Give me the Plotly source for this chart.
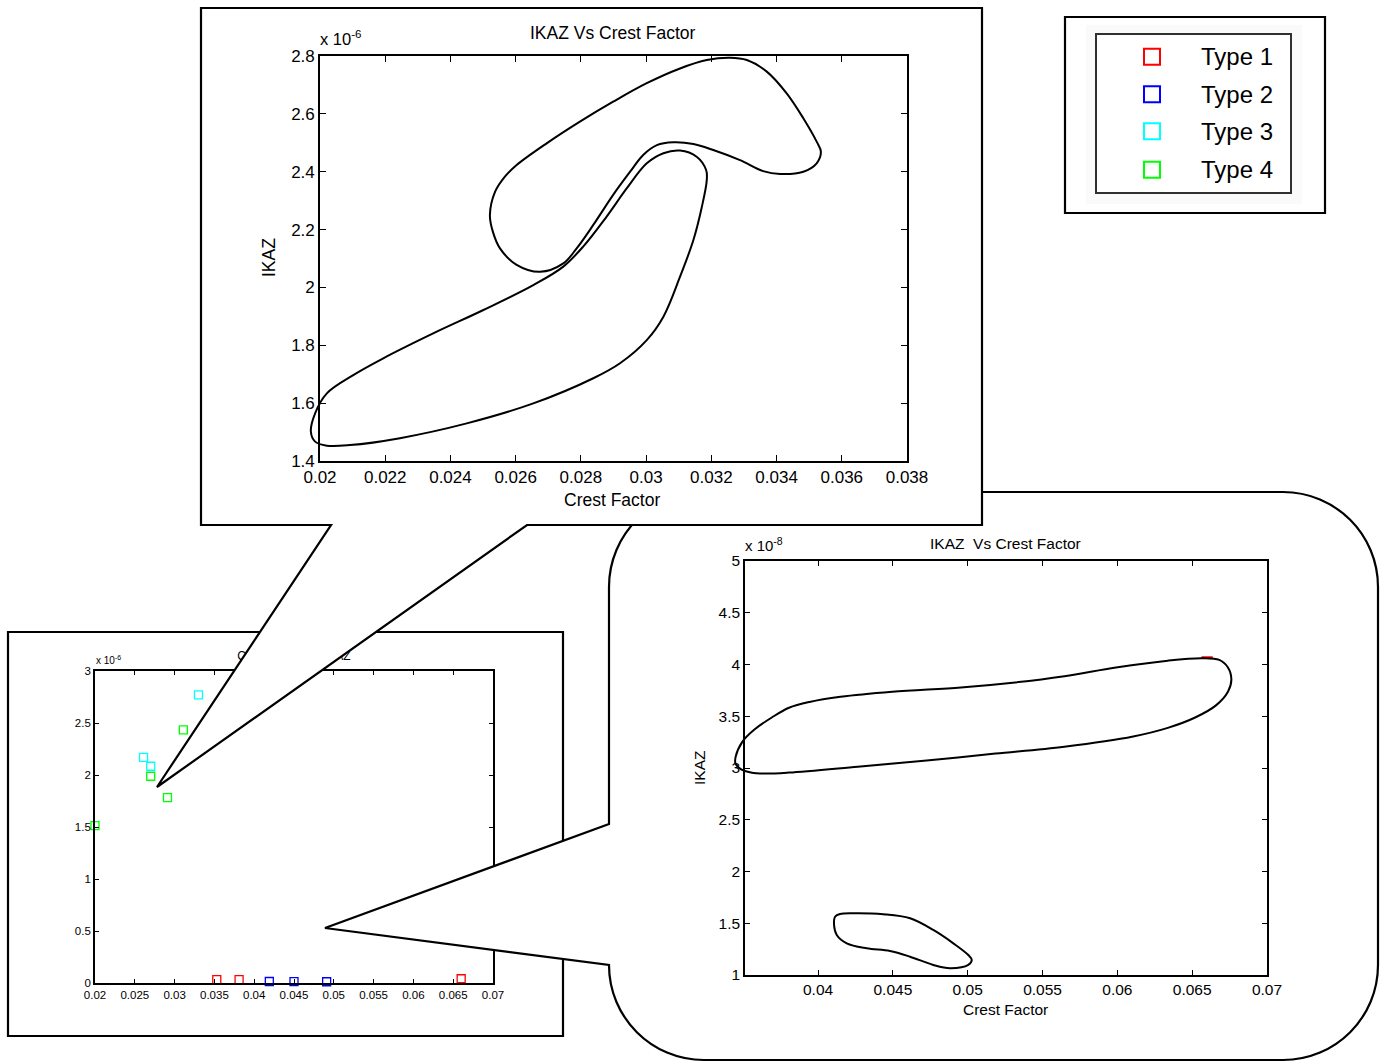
import plotly.graph_objects as go

W, H = 1383, 1062
FONT = "Liberation Sans, Arial, Helvetica, sans-serif"

# ---------------- measured points (Crest Factor, IKAZ) ----------------
type1_cf = [0.0353, 0.0381, 0.0660]
type1_ikaz = [3.15e-8, 3.30e-8, 4.07e-8]
type2_cf = [0.0419, 0.0450, 0.0491]
type2_ikaz = [1.45e-8, 1.40e-8, 1.18e-8]
type3_cf = [0.0261, 0.0270, 0.0330]
type3_ikaz = [2.170e-6, 2.084e-6, 2.770e-6]
type4_cf = [0.0200, 0.0270, 0.0291, 0.0311]
type4_ikaz = [1.513e-6, 1.988e-6, 1.782e-6, 2.433e-6]

# ---------------- class boundaries ----------------
bound3_cf = [0.02521, 0.02537, 0.02567, 0.02603, 0.02695, 0.02797, 0.02899, 0.03002,
             0.03104, 0.03186, 0.03257, 0.03309, 0.03370, 0.03431, 0.03482, 0.03523,
             0.03536, 0.03523, 0.03482, 0.03411, 0.03359, 0.03288, 0.03206, 0.03145,
             0.03083, 0.03033, 0.02991, 0.02951, 0.02899, 0.02838, 0.02787, 0.02746,
             0.02675, 0.02603, 0.02552, 0.02530]
bound3_ikaz = [2.250e-6, 2.331e-6, 2.383e-6, 2.423e-6, 2.498e-6, 2.573e-6, 2.642e-6, 2.706e-6,
               2.757e-6, 2.786e-6, 2.794e-6, 2.786e-6, 2.746e-6, 2.671e-6, 2.585e-6, 2.504e-6,
               2.469e-6, 2.429e-6, 2.400e-6, 2.392e-6, 2.402e-6, 2.440e-6, 2.475e-6, 2.496e-6,
               2.502e-6, 2.492e-6, 2.458e-6, 2.400e-6, 2.320e-6, 2.216e-6, 2.135e-6, 2.083e-6,
               2.054e-6, 2.078e-6, 2.135e-6, 2.193e-6]

bound4_cf = [0.01972, 0.01985, 0.02021, 0.02102, 0.02194, 0.02347, 0.02501, 0.02654,
             0.02746, 0.02807, 0.02879, 0.02941, 0.03002, 0.03053, 0.03104, 0.03155,
             0.03184, 0.03186, 0.03171, 0.03145, 0.03104, 0.03053, 0.03002, 0.02920,
             0.02838, 0.02654, 0.02450, 0.02245, 0.02092, 0.02021, 0.01985]
bound4_ikaz = [1.501e-6, 1.565e-6, 1.634e-6, 1.697e-6, 1.755e-6, 1.841e-6, 1.922e-6, 2.008e-6,
               2.072e-6, 2.141e-6, 2.245e-6, 2.343e-6, 2.429e-6, 2.464e-6, 2.473e-6, 2.452e-6,
               2.406e-6, 2.371e-6, 2.279e-6, 2.164e-6, 2.037e-6, 1.899e-6, 1.818e-6, 1.738e-6,
               1.686e-6, 1.599e-6, 1.530e-6, 1.479e-6, 1.455e-6, 1.453e-6, 1.467e-6]

bound1_cf = [0.03449, 0.03495, 0.03575, 0.03691, 0.03806, 0.03943, 0.04150, 0.04496,
             0.04955, 0.05301, 0.05646, 0.05991, 0.06337, 0.06566, 0.06681, 0.06739,
             0.06762, 0.06739, 0.06659, 0.06520, 0.06337, 0.06106, 0.05646, 0.05186,
             0.04726, 0.04265, 0.03806, 0.03645, 0.03552, 0.03484, 0.03449]
bound1_ikaz = [3.105e-8, 3.255e-8, 3.372e-8, 3.488e-8, 3.582e-8, 3.638e-8, 3.688e-8, 3.737e-8,
               3.778e-8, 3.824e-8, 3.887e-8, 3.971e-8, 4.037e-8, 4.060e-8, 4.044e-8, 3.971e-8,
               3.854e-8, 3.737e-8, 3.605e-8, 3.488e-8, 3.388e-8, 3.305e-8, 3.206e-8, 3.139e-8,
               3.073e-8, 3.013e-8, 2.956e-8, 2.946e-8, 2.956e-8, 2.989e-8, 3.039e-8]

bound2_cf = [0.04114, 0.04147, 0.04236, 0.04436, 0.04615, 0.04770, 0.04904, 0.05004,
             0.05027, 0.05004, 0.04882, 0.04770, 0.04615, 0.04481, 0.04325, 0.04192,
             0.04125, 0.04107]
bound2_ikaz = [1.563e-8, 1.589e-8, 1.596e-8, 1.587e-8, 1.548e-8, 1.435e-8, 1.306e-8, 1.193e-8,
               1.145e-8, 1.097e-8, 1.065e-8, 1.097e-8, 1.177e-8, 1.232e-8, 1.258e-8, 1.306e-8,
               1.387e-8, 1.483e-8]

# ---------------- tick labels ----------------
main_cf_ticks = [0.02, 0.025, 0.03, 0.035, 0.04, 0.045, 0.05, 0.055, 0.06, 0.065, 0.07]
main_cf_labels = ["0.02", "0.025", "0.03", "0.035", "0.04", "0.045", "0.05", "0.055", "0.06", "0.065", "0.07"]
main_ikaz_ticks = [0, 0.5, 1, 1.5, 2, 2.5, 3]
main_ikaz_labels = ["0", "0.5", "1", "1.5", "2", "2.5", "3"]

top_cf_ticks = [0.02, 0.022, 0.024, 0.026, 0.028, 0.03, 0.032, 0.034, 0.036, 0.038]
top_cf_labels = ["0.02", "0.022", "0.024", "0.026", "0.028", "0.03", "0.032", "0.034", "0.036", "0.038"]
top_ikaz_ticks = [1.4, 1.6, 1.8, 2.0, 2.2, 2.4, 2.6, 2.8]
top_ikaz_labels = ["1.4", "1.6", "1.8", "2", "2.2", "2.4", "2.6", "2.8"]

br_cf_ticks = [0.04, 0.045, 0.05, 0.055, 0.06, 0.065, 0.07]
br_cf_labels = ["0.04", "0.045", "0.05", "0.055", "0.06", "0.065", "0.07"]
br_ikaz_ticks = [1, 1.5, 2, 2.5, 3, 3.5, 4, 4.5, 5]
br_ikaz_labels = ["1", "1.5", "2", "2.5", "3", "3.5", "4", "4.5", "5"]

legend_names = ["Type 1", "Type 2", "Type 3", "Type 4"]
legend_colors = ["#ff0000", "#0000ff", "#00ffff", "#00ff00"]

E6, E8 = 1e-6, 1e-8


def scaled(vals, unit):
    return [v / unit for v in vals]


# ---------------- layout geometry (pixels) ----------------
def dom_x(p0, p1):
    return [p0 / W, p1 / W]


def dom_y(top, bottom):
    return [1 - bottom / H, 1 - top / H]


MAIN_BOX = (95, 493, 671, 983)      # left, right, top, bottom of the axes box
TOP_BOX = (320, 907, 56, 461)
BR_BOX = (745, 1267, 561, 975)

main_xr, main_yr = [0.02, 0.07], [0, 3]
top_xr, top_yr = [0.02, 0.038], [1.4, 2.8]
br_xr, br_yr = [0.03512, 0.07], [1, 5]


def box_axis(domain, rng, tickvals, ticktext, size, ticklen, lw, anchor):
    return dict(domain=domain, range=rng, tickmode="array", tickvals=tickvals,
                ticktext=ticktext, ticks="inside", ticklen=ticklen, tickwidth=1,
                tickcolor="black", showline=True, linecolor="black", linewidth=lw,
                mirror="ticks", showgrid=False, zeroline=False, anchor=anchor,
                automargin=False,
                tickfont=dict(family=FONT, size=size, color="black"), fixedrange=True)


def twin(box, xr, yr, pad, n):
    # hidden axes sharing the data scale of a box but reaching past its edges,
    # so curves and labels just outside the frame are not clipped
    l, r, t, b = box
    sx = (xr[1] - xr[0]) / (r - l)
    sy = (yr[1] - yr[0]) / (b - t)
    xa = dict(domain=dom_x(l - pad, r + pad), range=[xr[0] - pad * sx, xr[1] + pad * sx],
              visible=False, fixedrange=True, automargin=False, anchor=f"y{n}")
    ya = dict(domain=dom_y(t - pad, b + pad), range=[yr[0] - pad * sy, yr[1] + pad * sy],
              visible=False, fixedrange=True, automargin=False, anchor=f"x{n}")
    return xa, ya


def overlay(n):
    return (dict(domain=[0, 1], range=[0, W], visible=False, fixedrange=True,
                 automargin=False, anchor=f"y{n}"),
            dict(domain=[0, 1], range=[H, 0], visible=False, fixedrange=True,
                 automargin=False, anchor=f"x{n}"))


fig = go.Figure()

# --- subplot 1: full data set ---
for cf, ik, col in [(type1_cf, type1_ikaz, legend_colors[0]),
                    (type2_cf, type2_ikaz, legend_colors[1]),
                    (type3_cf, type3_ikaz, legend_colors[2]),
                    (type4_cf, type4_ikaz, legend_colors[3])]:
    fig.add_trace(go.Scatter(x=cf, y=scaled(ik, E6), mode="markers", cliponaxis=False,
                             marker=dict(symbol="square-open", size=8, color=col,
                                         line=dict(width=1.3, color=col)),
                             xaxis="x", yaxis="y", hoverinfo="skip"))

# --- subplot 2: title strip of the full plot (same scale, extended range) ---
main_h = MAIN_BOX[3] - MAIN_BOX[2]
fig.add_trace(go.Scatter(x=[sum(main_xr) / 2],
                         y=[main_yr[1] + 14 * (main_yr[1] - main_yr[0]) / main_h],
                         mode="text", text=["Crest Factor Vs IKAZ"], textposition="middle center",
                         textfont=dict(family=FONT, size=12, color="black"),
                         xaxis="x2", yaxis="y2", hoverinfo="skip"))

# --- subplot 3: cover for the lower callout ---
fig.add_trace(go.Scatter(x=[], y=[], xaxis="x3", yaxis="y3", hoverinfo="skip"))

# --- subplot 4: lower zoom frame ---
fig.add_trace(go.Scatter(x=[type1_cf[2]], y=[type1_ikaz[2] / E8], mode="markers",
                         cliponaxis=False,
                         marker=dict(symbol="line-ew", size=8,
                                     line=dict(width=2, color=legend_colors[0])),
                         xaxis="x4", yaxis="y4", hoverinfo="skip"))

# --- subplot 5: lower zoom boundaries ---
for cf, ik in [(bound1_cf, bound1_ikaz), (bound2_cf, bound2_ikaz)]:
    fig.add_trace(go.Scatter(x=cf + cf[:1], y=scaled(ik + ik[:1], E8), mode="lines",
                             line=dict(color="black", width=2, shape="spline", smoothing=1.0),
                             xaxis="x5", yaxis="y5", hoverinfo="skip"))

# --- subplot 6: cover for the upper callout ---
fig.add_trace(go.Scatter(x=[], y=[], xaxis="x6", yaxis="y6", hoverinfo="skip"))

# --- subplot 7: upper zoom frame ---
fig.add_trace(go.Scatter(x=[], y=[], xaxis="x7", yaxis="y7", hoverinfo="skip"))

# --- subplot 8: upper zoom boundaries ---
for cf, ik in [(bound3_cf, bound3_ikaz), (bound4_cf, bound4_ikaz)]:
    fig.add_trace(go.Scatter(x=cf + cf[:1], y=scaled(ik + ik[:1], E6), mode="lines",
                             line=dict(color="black", width=2, shape="spline", smoothing=1.0),
                             xaxis="x8", yaxis="y8", hoverinfo="skip"))

tw2x, tw2y = twin(MAIN_BOX, main_xr, main_yr, 40, 2)
ov3x, ov3y = overlay(3)
tw5x, tw5y = twin(BR_BOX, br_xr, br_yr, 30, 5)
ov6x, ov6y = overlay(6)
tw8x, tw8y = twin(TOP_BOX, top_xr, top_yr, 30, 8)

l, r, t, b = MAIN_BOX
xaxis = box_axis(dom_x(l, r), main_xr, main_cf_ticks, main_cf_labels, 11.5, 4, 1.8, "y")
yaxis = box_axis(dom_y(t, b), main_yr, main_ikaz_ticks, main_ikaz_labels, 11.5, 4, 1.8, "x")
l, r, t, b = BR_BOX
xaxis4 = box_axis(dom_x(l, r), br_xr, br_cf_ticks, br_cf_labels, 15.5, 5, 1.6, "y4")
yaxis4 = box_axis(dom_y(t, b), br_yr, br_ikaz_ticks, br_ikaz_labels, 15.5, 5, 1.6, "x4")
l, r, t, b = TOP_BOX
xaxis7 = box_axis(dom_x(l, r), top_xr, top_cf_ticks, top_cf_labels, 17, 6, 1.6, "y7")
yaxis7 = box_axis(dom_y(t, b), top_yr, top_ikaz_ticks, top_ikaz_labels, 17, 6, 1.6, "x7")


def pbox(x0, y0, x1, y1, **kw):
    d = dict(type="rect", xref="paper", yref="paper", x0=x0 / W, x1=x1 / W,
             y0=1 - y1 / H, y1=1 - y0 / H, layer="below")
    d.update(kw)
    return d


shapes = [
    pbox(8, 632, 563, 1036, line=dict(color="black", width=2.2), fillcolor="white"),
    pbox(1065, 17, 1325, 213, line=dict(color="black", width=2.2), fillcolor="white"),
    pbox(1086, 25, 1302, 204, line=dict(width=0), fillcolor="#fafafa"),
    pbox(1096, 34, 1291, 193, line=dict(color="#303030", width=2), fillcolor="white"),
]
legend_y = [56.7, 94.3, 131.3, 169.7]
for cy, col in zip(legend_y, legend_colors):
    shapes.append(pbox(1144, cy - 8, 1160, cy + 8, line=dict(color=col, width=2),
                       fillcolor="rgba(0,0,0,0)"))

# rounded callout around the lower zoom
k = 0.5523
rr = 95
x0, x1, y0, y1 = 609, 1378, 492, 1060
br_path = (
    f"M {x0 + rr},{y0} L {x1 - rr},{y0} "
    f"C {x1 - rr + k * rr},{y0} {x1},{y0 + rr - k * rr} {x1},{y0 + rr} "
    f"L {x1},{y1 - rr} "
    f"C {x1},{y1 - rr + k * rr} {x1 - rr + k * rr},{y1} {x1 - rr},{y1} "
    f"L {x0 + rr},{y1} "
    f"C {x0 + rr - k * rr},{y1} {x0},{y1 - rr + k * rr} {x0},{y1 - rr} "
    f"L 325,928 L {x0},824 L {x0},{y0 + rr} "
    f"C {x0},{y0 + rr - k * rr} {x0 + rr - k * rr},{y0} {x0 + rr},{y0} Z"
)
shapes.append(dict(type="path", xref="x3", yref="y3", path=br_path, layer="below",
                   fillcolor="white", line=dict(color="black", width=2.2)))

# rectangular callout around the upper zoom
top_path = "M 201,8 L 982,8 L 982,525 L 527,525 L 157,787 L 331,525 L 201,525 Z"
shapes.append(dict(type="path", xref="x6", yref="y6", path=top_path, layer="below",
                   fillcolor="white", line=dict(color="black", width=2.2)))


def ann(text, px, py, size, xanchor="center", yanchor="middle", angle=0):
    return dict(text=text, x=px / W, y=1 - py / H, xref="paper", yref="paper",
                showarrow=False, xanchor=xanchor, yanchor=yanchor, textangle=angle,
                font=dict(family=FONT, size=size, color="black"))


annotations = [
    ann("x 10<sup>-6</sup>", 94, 668, 10, "left", "bottom"),
    ann("IKAZ Vs Crest Factor", 612, 33, 17.5),
    ann("IKAZ", 269, 258, 17.5, angle=-90),
    ann("Crest Factor", 612, 500, 17.5),
    ann("x 10<sup>-6</sup>", 318, 50, 16.5, "left", "bottom"),
    ann("IKAZ\u00a0 Vs Crest Factor", 1005, 543, 15.5),
    ann("IKAZ", 699, 768, 15.5, angle=-90),
    ann("Crest Factor", 1005, 1009, 15.5),
    ann("x 10<sup>-8</sup>", 743, 556, 15, "left", "bottom"),
]
for cy, name in zip(legend_y, legend_names):
    annotations.append(ann(name, 1199, cy, 24, "left", "middle"))

fig.update_layout(
    width=W, height=H, autosize=False,
    margin=dict(l=0, r=0, t=0, b=0, pad=0, autoexpand=False),
    paper_bgcolor="white", plot_bgcolor="rgba(0,0,0,0)", showlegend=False,
    xaxis=xaxis, yaxis=yaxis,
    xaxis2=tw2x, yaxis2=tw2y,
    xaxis3=ov3x, yaxis3=ov3y,
    xaxis4=xaxis4, yaxis4=yaxis4,
    xaxis5=tw5x, yaxis5=tw5y,
    xaxis6=ov6x, yaxis6=ov6y,
    xaxis7=xaxis7, yaxis7=yaxis7,
    xaxis8=tw8x, yaxis8=tw8y,
    shapes=shapes, annotations=annotations,
)

fig.write_html("out.html", config={"displayModeBar": False})
